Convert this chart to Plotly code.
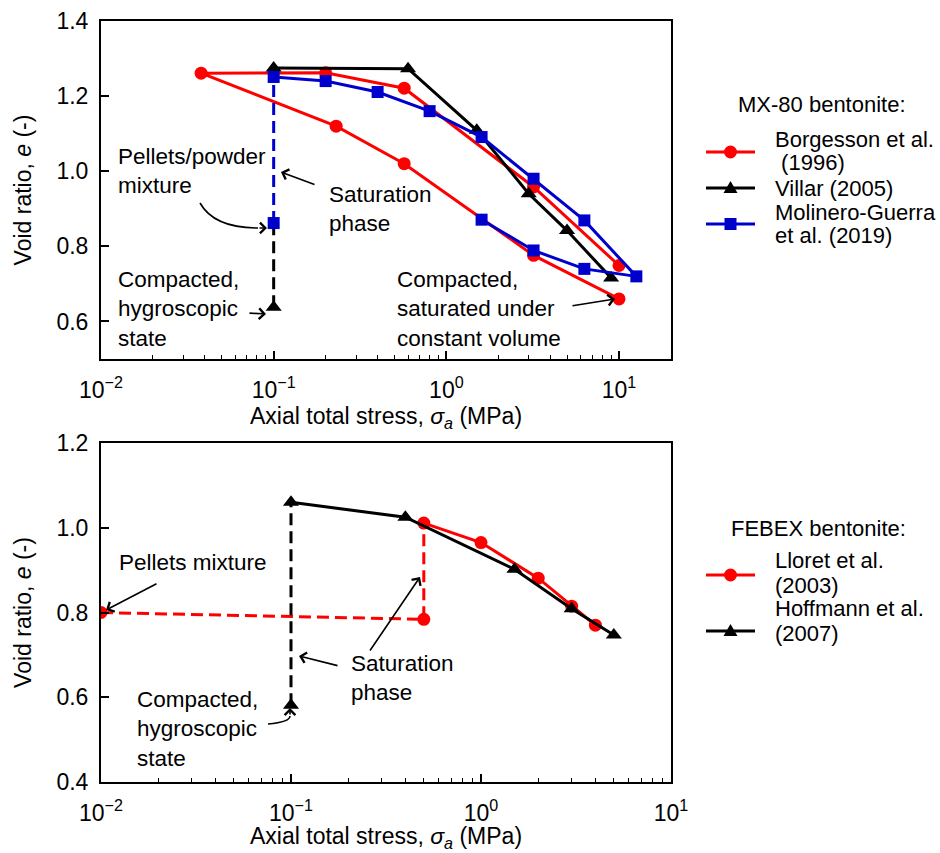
import math
import plotly.graph_objects as go

# ---------------- data ----------------
# MX-80 bentonite (top panel)
bor_x = [10, 3.2, 0.57, 0.23, 0.038, 0.2, 0.57, 3.2, 10]
bor_e = [0.66, 0.776, 1.02, 1.12, 1.261, 1.262, 1.221, 0.958, 0.749]

vil_x = [0.1, 0.6, 1.5, 3.0, 5.0, 9.0]
vil_e = [1.275, 1.273, 1.109, 0.94, 0.842, 0.716]
vil_sat_x = [0.1, 0.1]
vil_sat_e = [0.638, 0.862]

mol_x = [0.1, 0.2, 0.4, 0.8, 1.6, 3.2, 6.3, 12.6, 6.3, 3.2, 1.6]
mol_e = [1.251, 1.24, 1.211, 1.16, 1.091, 0.98, 0.869, 0.72, 0.74, 0.789, 0.871]
mol_sat_x = [0.1, 0.1]
mol_sat_e = [0.862, 1.251]

# FEBEX bentonite (bottom panel)
llo_sat_x = [0.01, 0.5, 0.5]
llo_sat_e = [0.80, 0.784, 1.011]
llo_x = [0.5, 1.0, 2.0, 3.0, 4.0]
llo_e = [1.011, 0.965, 0.881, 0.815, 0.770]

hof_sat_x = [0.1, 0.1]
hof_sat_e = [0.581, 1.06]
hof_x = [0.1, 0.4, 1.5, 3.0, 5.0]
hof_e = [1.06, 1.025, 0.902, 0.809, 0.747]

# axis ticks
x_tickvals = [0.01, 0.1, 1, 10]
x_ticktext = ["10<sup>−2</sup>", "10<sup>−1</sup>", "10<sup>0</sup>", "10<sup>1</sup>"]
x_minor = [m * d for d in (0.01, 0.1, 1, 10) for m in range(2, 10)]

# legends
top_legend_title = "MX-80 bentonite:"
top_legend_names = [["Borgesson et al.", " (1996)"], ["Villar (2005)"], ["Molinero-Guerra", "et al. (2019)"]]
bot_legend_title = "FEBEX bentonite:"
bot_legend_names = [["Lloret et al.", "(2003)"], ["Hoffmann et al.", "(2007)"]]

RED = "#ff0000"
BLUE = "#0000cd"
BLACK = "#000000"
FONT = "Liberation Sans, Arial, sans-serif"
FS_TICK = 23
FS_TITLE = 23
FS_TXT = 22.5
FS_LEG = 22
LW = 3
DASH = "12px,6px"

W, H = 940, 853
TOP_XR = [-2, math.log10(20)]
BOT_XR = [-2, 1]


def px(xp, yp):
    return xp / W, 1 - yp / H


fig = go.Figure()

# ---------------- top panel ----------------
fig.add_trace(go.Scatter(x=bor_x, y=bor_e, mode="lines+markers", name="Borgesson et al. (1996)",
                         line=dict(color=RED, width=LW), marker=dict(symbol="circle", size=13, color=RED),
                         xaxis="x", yaxis="y"))
fig.add_trace(go.Scatter(x=vil_sat_x, y=vil_sat_e, mode="lines",
                         line=dict(color=BLACK, width=LW, dash=DASH), xaxis="x", yaxis="y"))
fig.add_trace(go.Scatter(x=vil_sat_x[:1], y=vil_sat_e[:1], mode="markers",
                         marker=dict(symbol="triangle-up", size=14, color=BLACK), xaxis="x", yaxis="y"))
fig.add_trace(go.Scatter(x=vil_x, y=vil_e, mode="lines+markers", name="Villar (2005)",
                         line=dict(color=BLACK, width=LW), marker=dict(symbol="triangle-up", size=14, color=BLACK),
                         xaxis="x", yaxis="y"))
fig.add_trace(go.Scatter(x=mol_sat_x, y=mol_sat_e, mode="lines",
                         line=dict(color=BLUE, width=LW, dash=DASH), xaxis="x", yaxis="y"))
fig.add_trace(go.Scatter(x=mol_sat_x[:1], y=mol_sat_e[:1], mode="markers",
                         marker=dict(symbol="square", size=12, color=BLUE), xaxis="x", yaxis="y"))
fig.add_trace(go.Scatter(x=mol_x, y=mol_e, mode="lines+markers", name="Molinero-Guerra et al. (2019)",
                         line=dict(color=BLUE, width=LW), marker=dict(symbol="square", size=12, color=BLUE),
                         xaxis="x", yaxis="y"))

# ---------------- bottom panel ----------------
fig.add_trace(go.Scatter(x=llo_sat_x, y=llo_sat_e, mode="lines",
                         line=dict(color=RED, width=LW, dash=DASH), xaxis="x2", yaxis="y2"))
fig.add_trace(go.Scatter(x=llo_sat_x[:2], y=llo_sat_e[:2], mode="markers",
                         marker=dict(symbol="circle", size=13, color=RED), xaxis="x2", yaxis="y2"))
fig.add_trace(go.Scatter(x=llo_x, y=llo_e, mode="lines+markers", name="Lloret et al. (2003)",
                         line=dict(color=RED, width=LW), marker=dict(symbol="circle", size=13, color=RED),
                         xaxis="x2", yaxis="y2"))
fig.add_trace(go.Scatter(x=hof_sat_x, y=hof_sat_e, mode="lines",
                         line=dict(color=BLACK, width=LW, dash=DASH), xaxis="x2", yaxis="y2"))
fig.add_trace(go.Scatter(x=hof_sat_x[:1], y=hof_sat_e[:1], mode="markers",
                         marker=dict(symbol="triangle-up", size=14, color=BLACK), xaxis="x2", yaxis="y2"))
fig.add_trace(go.Scatter(x=hof_x, y=hof_e, mode="lines+markers", name="Hoffmann et al. (2007)",
                         line=dict(color=BLACK, width=LW), marker=dict(symbol="triangle-up", size=14, color=BLACK),
                         xaxis="x2", yaxis="y2"))

# empty traces so that the overlay axes (inside major ticks) are drawn
fig.add_trace(go.Scatter(x=[], y=[], xaxis="x3", yaxis="y", showlegend=False, hoverinfo="skip"))
fig.add_trace(go.Scatter(x=[], y=[], xaxis="x4", yaxis="y2", showlegend=False, hoverinfo="skip"))

XTITLE = "Axial total stress, <i>σ<sub>a</sub></i> (MPa)"
YTITLE = "Void ratio, <i>e</i> (-)"

# labelled axis: transparent outside ticks push the labels a little below the frame
xcommon = dict(type="log", tickmode="array", tickvals=x_tickvals, ticktext=x_ticktext,
               ticks="outside", ticklen=9, tickwidth=1, tickcolor="rgba(0,0,0,0)",
               showline=True, linewidth=2, linecolor=BLACK, mirror=True, showgrid=False,
               zeroline=False, automargin=False, tickfont=dict(size=FS_TICK, color=BLACK),
               minor=dict(ticks="inside", ticklen=4, tickwidth=1.2, tickcolor=BLACK, tickmode="array",
                          tickvals=x_minor, showgrid=False))
# overlay axis carrying the inside major ticks
xmajor = dict(type="log", tickmode="array", tickvals=x_tickvals, ticks="inside", ticklen=8, tickwidth=1.5,
              tickcolor=BLACK, showticklabels=False, showline=False, showgrid=False, zeroline=False,
              automargin=False, side="bottom")
ycommon = dict(dtick=0.2, tickformat=".1f", ticks="inside", ticklen=8, tickwidth=1.5, tickcolor=BLACK,
               showline=True, linewidth=2, linecolor=BLACK, mirror=True, showgrid=False, zeroline=False,
               automargin=False, tickfont=dict(size=FS_TICK, color=BLACK), ticklabelstandoff=6,
               title=dict(text=YTITLE, font=dict(size=FS_TITLE, color=BLACK), standoff=18))

fig.update_layout(
    width=W, height=H, margin=dict(l=0, r=0, t=0, b=0),
    paper_bgcolor="white", plot_bgcolor="white", showlegend=False,
    font=dict(family=FONT, size=FS_TXT, color=BLACK),
    xaxis=dict(xcommon, domain=[101 / W, 671 / W], range=TOP_XR, anchor="y"),
    yaxis=dict(ycommon, domain=[1 - 359 / H, 1 - 21 / H], range=[0.5, 1.4], anchor="x"),
    xaxis2=dict(xcommon, domain=[101 / W, 671 / W], range=BOT_XR, anchor="y2"),
    yaxis2=dict(ycommon, domain=[1 - 782 / H, 1 - 443 / H], range=[0.4, 1.2], anchor="x2"),
    xaxis3=dict(xmajor, overlaying="x", anchor="y", range=TOP_XR),
    xaxis4=dict(xmajor, overlaying="x2", anchor="y2", range=BOT_XR),
)

ann = []
shapes = []

# x-axis titles (placed as paper annotations for exact position)
for ty in (417, 837):
    p = px(386, ty)
    ann.append(dict(x=p[0], y=p[1], xref="paper", yref="paper", text=XTITLE, showarrow=False,
                    xanchor="center", yanchor="middle", font=dict(size=FS_TITLE, color=BLACK)))


def text(x, y, t, xref, yref, size=FS_TXT, xanchor="left"):
    ann.append(dict(x=x, y=y, xref=xref, yref=yref, text=t, showarrow=False, xanchor=xanchor,
                    yanchor="middle", align="left", font=dict(size=size, color=BLACK)))


# top panel texts (x in log10 units)
text(-1.914, 1.001, "Pellets/powder<br>mixture", "x", "y")
text(-0.694, 0.900, "Saturation<br>phase", "x", "y")
text(-1.914, 0.633, "Compacted,<br>hygroscopic<br>state", "x", "y")
text(-0.298, 0.633, "Compacted,<br>saturated under<br>constant volume", "x", "y")
# bottom panel texts
text(-1.914, 0.917, "Pellets mixture", "x2", "y2")
text(-0.693, 0.645, "Saturation<br>phase", "x2", "y2")
text(-1.82, 0.525, "Compacted,<br>hygroscopic<br>state", "x2", "y2")


def arrow(tail, head):
    hx, hy = px(*head)
    ann.append(dict(x=hx, y=hy, xref="paper", yref="paper", ax=tail[0] - head[0], ay=tail[1] - head[1],
                    axref="pixel", ayref="pixel", text="", showarrow=True, arrowhead=4, arrowsize=1.3,
                    arrowwidth=1.6, arrowcolor=BLACK))


def curve(p0, c, p1):
    a = px(*p0)
    b = px(*c)
    d = px(*p1)
    shapes.append(dict(type="path", xref="paper", yref="paper",
                       path=f"M{a[0]},{a[1]} Q{b[0]},{b[1]} {d[0]},{d[1]}",
                       line=dict(color=BLACK, width=1.6)))


# top arrows (pixel positions)
curve((200, 203), (214, 228), (258, 228))
arrow((258, 228), (267, 228))
arrow((316, 185), (281, 172))
arrow((248, 313), (266, 314))
arrow((571, 306), (615, 299))
# bottom arrows
arrow((158, 583), (106, 610))
arrow((369, 652), (420, 577))
arrow((339, 666), (299, 656))
curve((268, 724), (290, 722), (290, 716))
arrow((290, 716), (290, 708))


# ---------------- manual legends ----------------
def legend_key(y, color, symbol):
    x0, x1 = 706, 755
    xc = (x0 + x1) / 2
    a = px(x0, y)
    b = px(x1, y)
    shapes.append(dict(type="line", xref="paper", yref="paper", x0=a[0], y0=a[1], x1=b[0], y1=b[1],
                       line=dict(color=color, width=LW)))
    if symbol == "circle":
        r = 6.5
        p0 = px(xc - r, y + r)
        p1 = px(xc + r, y - r)
        shapes.append(dict(type="circle", xref="paper", yref="paper", x0=p0[0], y0=p0[1], x1=p1[0], y1=p1[1],
                           fillcolor=color, line=dict(width=0)))
    elif symbol == "square":
        r = 6
        p0 = px(xc - r, y + r)
        p1 = px(xc + r, y - r)
        shapes.append(dict(type="rect", xref="paper", yref="paper", x0=p0[0], y0=p0[1], x1=p1[0], y1=p1[1],
                           fillcolor=color, line=dict(width=0)))
    else:
        t = px(xc, y - 7)
        l = px(xc - 7, y + 5)
        rr = px(xc + 7, y + 5)
        shapes.append(dict(type="path", xref="paper", yref="paper",
                           path=f"M{t[0]},{t[1]} L{l[0]},{l[1]} L{rr[0]},{rr[1]} Z",
                           fillcolor=color, line=dict(width=0)))


def legend_line(x, y, t, xanchor="left"):
    p = px(x, y)
    ann.append(dict(x=p[0], y=p[1], xref="paper", yref="paper", text=t, showarrow=False, xanchor=xanchor,
                    yanchor="middle", font=dict(size=FS_LEG, color=BLACK)))


legend_line(822, 105, top_legend_title, "center")
top_keys = [(RED, "circle", 152, [140, 162]), (BLACK, "triangle", 188, [188]), (BLUE, "square", 224, [212, 235])]
for (col, sym, ky, lys), names in zip(top_keys, top_legend_names):
    legend_key(ky, col, sym)
    for ly, nm in zip(lys, names):
        legend_line(773, ly, nm)

legend_line(818, 528, bot_legend_title, "center")
bot_keys = [(RED, "circle", 575, [560, 585]), (BLACK, "triangle", 631, [608, 633])]
for (col, sym, ky, lys), names in zip(bot_keys, bot_legend_names):
    legend_key(ky, col, sym)
    for ly, nm in zip(lys, names):
        legend_line(773, ly, nm)

fig.update_layout(annotations=ann, shapes=shapes)

fig.write_html("out.html")
